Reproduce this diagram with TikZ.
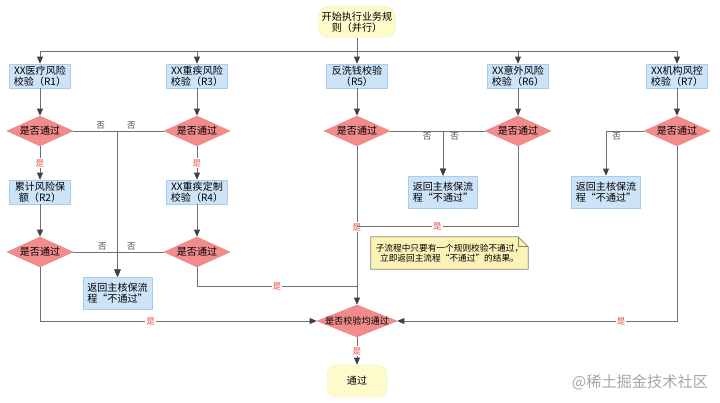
\documentclass[tikz,border=0pt]{standalone}
\usepackage{fontspec}
\setmainfont{Noto Sans CJK SC}
\usepackage{tikz}
\usetikzlibrary{arrows.meta,positioning,shapes,backgrounds}
\usepackage{xcolor}
\definecolor{ruleblue}{HTML}{CDE4F8}
\definecolor{ruleline}{HTML}{A9CCEC}
\definecolor{checkred}{HTML}{F28C8C}
\definecolor{checkline}{HTML}{E98282}
\definecolor{startyellow}{HTML}{FDFBCA}
\definecolor{startline}{HTML}{EFEDBE}
\definecolor{memoyellow}{HTML}{FAF2B6}
\definecolor{memoline}{HTML}{8C8668}
\definecolor{flowgray}{HTML}{707070}
\definecolor{tipgray}{HTML}{404040}
\definecolor{yesred}{HTML}{E8504E}

\begin{document}
\begin{tikzpicture}[x=0.03cm,y=-0.03cm,
  every node/.style={font=\fontsize{8.6pt}{9.6pt}\selectfont, text=black}]
  \tikzstyle{rule}=[rectangle, draw=ruleline, fill=ruleblue, minimum width=1.83cm,
    minimum height=0.72cm, inner sep=1pt, align=center]
  \tikzstyle{back}=[rule, minimum width=2.07cm, minimum height=0.96cm, align=left]
  \tikzstyle{check}=[diamond, draw=checkline, fill=checkred, minimum width=1.98cm,
    minimum height=0.9cm, inner sep=0pt, shape aspect=2.2]
  \tikzstyle{startstop}=[rectangle, rounded corners=0.3cm, draw=startline, fill=startyellow,
    minimum width=2.31cm, minimum height=0.93cm, align=center, inner sep=1pt]
  \tikzstyle{line}=[draw=flowgray, line width=0.7pt]
  \tikzstyle{flow}=[line, -{Triangle[length=6pt,width=5pt,color=tipgray]}]
  \tikzstyle{yes}=[fill=white, inner sep=0.8pt, text=yesred, font=\fontsize{7.3pt}{8pt}\selectfont]
  \tikzstyle{no}=[inner sep=1.5pt, text=black!70, font=\fontsize{7.3pt}{8pt}\selectfont]
  \useasboundingbox (0,0) rectangle (720,403);

  \node[startstop] (start) at (357,22) {开始执行业务规\\则（并行）};
  \coordinate (bus) at (357,51);

  \node[rule] (r1) at (40,76) {XX医疗风险\\校验（R1）};
  \node[rule] (r3) at (197,76) {XX重疾风险\\校验（R3）};
  \node[rule] (r5) at (357,76) {反洗钱校验\\（R5）};
  \node[rule] (r6) at (518,76) {XX意外风险\\校验（R6）};
  \node[rule] (r7) at (677,76) {XX机构风控\\校验（R7）};

  \node[check] (d1) at (40,131) {是否通过};
  \node[check] (d3) at (197,131) {是否通过};
  \node[check] (d5) at (357,131) {是否通过};
  \node[check] (d6) at (518,131) {是否通过};
  \node[check] (d7) at (677,131) {是否通过};

  \node[rule] (r2) at (40,192) {累计风险保\\额（R2）};
  \node[rule] (r4) at (197,192) {XX重疾定制\\校验（R4）};
  \node[check] (d2) at (40,252) {是否通过};
  \node[check] (d4) at (197,252) {是否通过};

  \node[back] (b1) at (117.5,293) {返回主核保流\\程“不通过”};
  \node[back] (b2) at (443,192) {返回主核保流\\程“不通过”};
  \node[back] (b3) at (606,192) {返回主核保流\\程“不通过”};

  \node[align=center, minimum width=4.71cm, minimum height=0.96cm, inner sep=1pt,
    font=\fontsize{7.4pt}{9pt}\selectfont] (memo) at (449.5,253)
    {子流程中只要有一个规则校验不通过，\\立即返回主流程“不通过”的结果。};
  \begin{scope}[on background layer]
    \draw[draw=memoline, fill=memoyellow, line width=0.6pt] (memo.south west) -- (memo.north west)
      -- ([xshift=-0.3cm]memo.north east) -- ([yshift=-0.3cm]memo.north east)
      -- (memo.south east) -- cycle;
    \draw[draw=memoline, line width=0.6pt] ([xshift=-0.3cm]memo.north east)
      -- ([xshift=-0.3cm,yshift=-0.3cm]memo.north east) -- ([yshift=-0.3cm]memo.north east);
  \end{scope}

  \node[check, minimum width=2.4cm, minimum height=0.96cm, inner xsep=-0.25cm, shape aspect=2.5,
    font=\fontsize{7.8pt}{9pt}\selectfont] (all) at (357,321) {是否校验均通过};
  \node[startstop, minimum width=1.8cm, minimum height=0.96cm] (pass) at (357,381) {通过};

  \node[text=black!35, font=\fontsize{13pt}{14pt}\selectfont] (mark) at (640,382) {@稀土掘金技术社区};

  % start to the rules
  \draw[line] (start.south) -- (bus);
  \foreach \r in {r1,r3,r5,r6,r7}
    \draw[flow] (bus) -| (\r.north);
  \draw[flow] (r1) -- (d1);
  \draw[flow] (r3) -- (d3);
  \draw[flow] (r5) -- (d5);
  \draw[flow] (r6) -- (d6);
  \draw[flow] (r7) -- (d7);
  \draw[flow] (d1) -- node[yes] {是} (r2);
  \draw[flow] (d3) -- node[yes] {是} (r4);
  \draw[flow] (r2) -- (d2);
  \draw[flow] (r4) -- (d4);

  % failed checks
  \draw[flow] (d1.east) -| node[no,above,pos=0.31] {否} (b1.north);
  \draw[flow] (d3.west) -| node[no,above,pos=0.35] {否} (b1.north);
  \draw[flow] (d2.east) -| node[no,above,pos=0.33] {否} (b1.north);
  \draw[flow] (d4.west) -| node[no,above,pos=0.35] {否} (b1.north);
  \draw[flow] (d5.east) -| node[no,below,pos=0.35] {否} (b2.north);
  \draw[flow] (d6.west) -| node[no,below,pos=0.36] {否} (b2.north);
  \draw[flow] (d7.west) -| node[no,below,pos=0.36] {否} (b3.north);

  % passed checks
  \coordinate (j6) at (357,226);
  \coordinate (j4) at (357,286);
  \draw[flow] (d5) -- node[yes,pos=0.51] {是} (all);
  \draw[line] (d6.south) |- node[yes,pos=0.75] {是} (j6);
  \draw[line] (d4.south) |- node[yes,pos=0.75] {是} (j4);
  \draw[flow] (d2.south) |- node[yes,pos=0.7] {是} (all.west);
  \draw[flow] (d7.south) |- node[yes,pos=0.6] {是} (all.east);
  \draw[flow] (all) -- node[yes] {是} (pass);
\end{tikzpicture}
\end{document}
